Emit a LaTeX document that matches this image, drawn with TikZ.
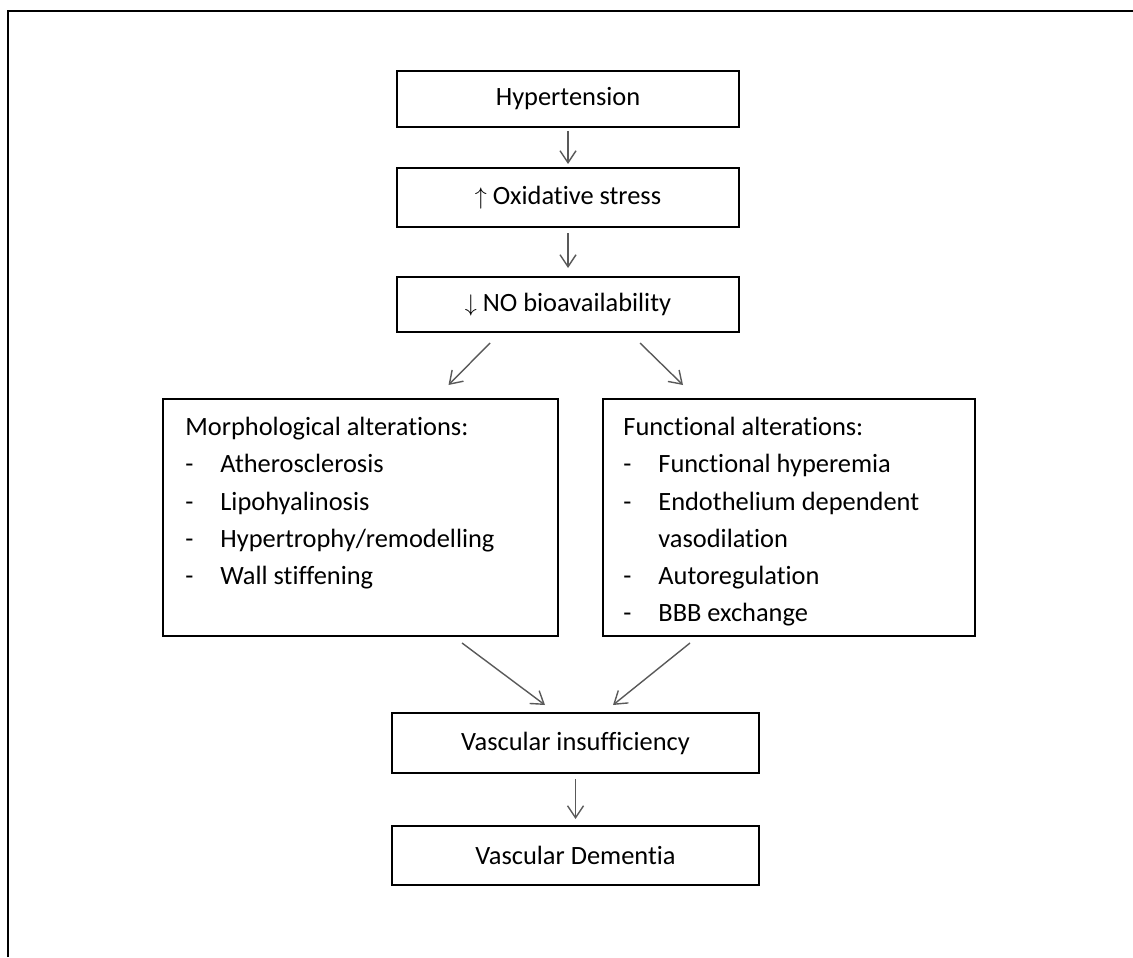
\documentclass[tikz,border=0pt]{standalone}
\usepackage{fontspec}
\setmainfont{Carlito}[Ligatures={NoCommon}]
\usetikzlibrary{arrows.meta,positioning}
\newcommand{\itm}{\makebox[17.5pt][l]{-}}

\begin{document}
\begin{tikzpicture}[x=0.5pt, y=-0.5pt,
    box/.style={draw, line width=1pt, minimum width=171pt, minimum height=28pt, inner sep=0pt, font=\fontsize{13.2}{18.6}\selectfont},
    listbox/.style={draw, line width=1pt, minimum height=118.5pt, inner sep=0pt},
    listtxt/.style={anchor=north west, inner sep=0pt, align=left, font=\fontsize{13.2}{18.6}\selectfont},
    arr/.style={-{Straight Barb[length=6pt,width=8pt]}, draw=black!65, line width=0.7pt}
]
\useasboundingbox (0,0) rectangle (1133,957);
\draw[line width=1.2pt] (8,957) -- (8,11) -- (1133,11);

\node[box] (hyp) at (568,99) {Hypertension};
\node[box, minimum height=29.5pt] (ox) at (568,197.5) {$\uparrow$ Oxidative stress};
\node[box, minimum height=27.5pt] (no) at (568,304.5) {$\downarrow$ NO bioavailability};
\node[listbox, minimum width=197.5pt] (morph) at (360.5,517.5) {};
\node[listbox, minimum width=186pt] (func) at (789,517.5) {};
\node[listtxt] (morphtxt) at (185,417) {Morphological alterations:\\
  \itm Atherosclerosis\\
  \itm Lipohyalinosis\\
  \itm Hypertrophy/remodelling\\
  \itm Wall stiffening};
\node[listtxt] (functxt) at (623,417) {Functional alterations:\\
  \itm Functional hyperemia\\
  \itm Endothelium dependent\\
  \hspace*{17.5pt}vasodilation\\
  \itm Autoregulation\\
  \itm BBB exchange};
\node[box, minimum width=183.5pt, minimum height=30pt] (vasc) at (575.5,743) {Vascular insufficiency};
\node[box, minimum width=183.5pt, minimum height=29.5pt] (dem) at (575.5,855.5) {Vascular Dementia};

\draw[arr, shorten <=1.5pt, shorten >=1.5pt] (hyp) -- (ox);
\draw[arr, shorten <=2.5pt, shorten >=4pt] (ox) -- (no);
\draw[arr] ([xshift=-39pt,yshift=-5pt]no.south) -- ([xshift=44pt,yshift=6.5pt]morph.north);
\draw[arr] ([xshift=36pt,yshift=-5pt]no.south) -- ([xshift=-53pt,yshift=6.5pt]func.north);
\draw[arr] ([xshift=50.75pt,yshift=-3pt]morph.south) -- ([xshift=-15.25pt,yshift=3.5pt]vasc.north);
\draw[arr] ([xshift=-49.5pt,yshift=-3pt]func.south) -- ([xshift=18.75pt,yshift=3.5pt]vasc.north);
\draw[arr, shorten <=2.5pt, shorten >=3pt] (vasc) -- (dem);
\end{tikzpicture}
\end{document}
